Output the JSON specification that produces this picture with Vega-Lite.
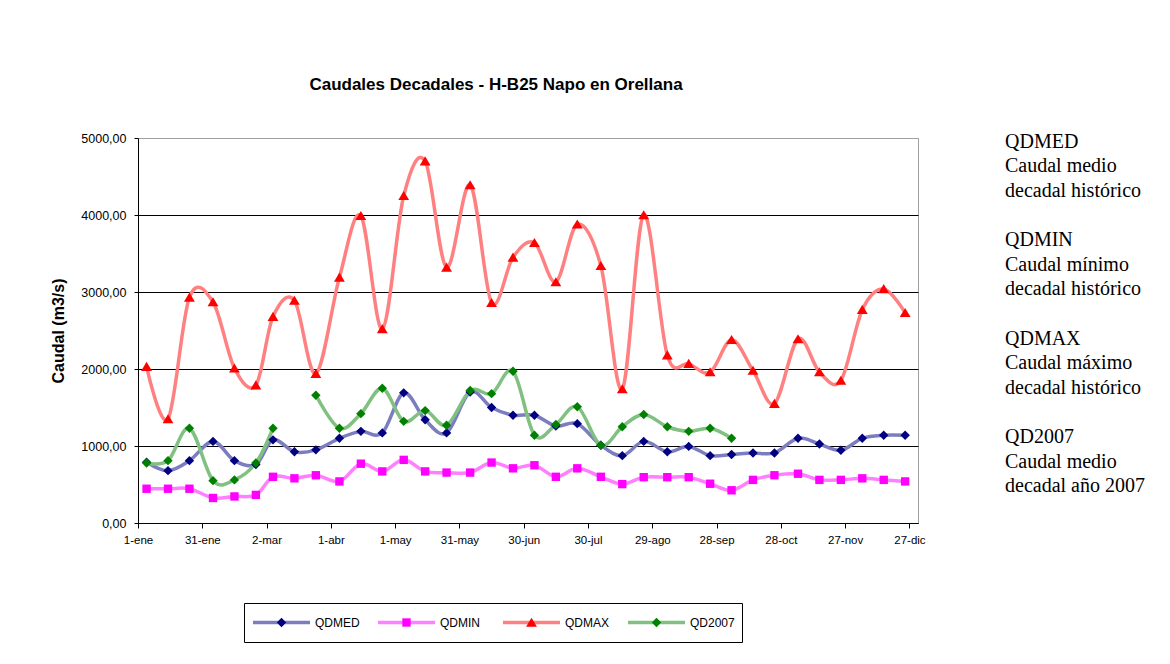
{
  "$schema": "https://vega.github.io/schema/vega-lite/v6.json",
  "autosize": {"type": "none"},
  "padding": {"left": 138, "top": 138, "right": 1032, "bottom": 526},
  "background": "white",
  "bounds": "flush",
  "spacing": 86,
  "config": {
    "view": {"stroke": "#A0A0A0", "strokeWidth": 1},
    "font": "Liberation Sans"
  },
  "hconcat": [
    {
      "width": 780,
      "height": 385,
      "title": {
        "text": "Caudales Decadales - H-B25 Napo en Orellana",
        "font": "Liberation Sans",
        "fontSize": 17,
        "fontWeight": "bold",
        "color": "black",
        "anchor": "middle",
        "frame": "group",
        "dx": -32,
        "offset": 38
      },
      "data": {
        "values": [
          {"fecha": "2007-01-05", "QDMED": 790, "QDMIN": 445, "QDMAX": 2030, "QD2007": 780},
          {"fecha": "2007-01-15", "QDMED": 680, "QDMIN": 445, "QDMAX": 1350, "QD2007": 810},
          {"fecha": "2007-01-25", "QDMED": 810, "QDMIN": 445, "QDMAX": 2930, "QD2007": 1230},
          {"fecha": "2007-02-05", "QDMED": 1060, "QDMIN": 325, "QDMAX": 2870, "QD2007": 550},
          {"fecha": "2007-02-15", "QDMED": 810, "QDMIN": 345, "QDMAX": 2010, "QD2007": 560},
          {"fecha": "2007-02-25", "QDMED": 760, "QDMIN": 365, "QDMAX": 1790, "QD2007": 780},
          {"fecha": "2007-03-05", "QDMED": 1080, "QDMIN": 600, "QDMAX": 2680, "QD2007": 1230},
          {"fecha": "2007-03-15", "QDMED": 925, "QDMIN": 580, "QDMAX": 2890, "QD2007": null},
          {"fecha": "2007-03-25", "QDMED": 950, "QDMIN": 620, "QDMAX": 1940, "QD2007": 1660},
          {"fecha": "2007-04-05", "QDMED": 1100, "QDMIN": 540, "QDMAX": 3190, "QD2007": 1230},
          {"fecha": "2007-04-15", "QDMED": 1190, "QDMIN": 770, "QDMAX": 3990, "QD2007": 1420},
          {"fecha": "2007-04-25", "QDMED": 1170, "QDMIN": 670, "QDMAX": 2520, "QD2007": 1750},
          {"fecha": "2007-05-05", "QDMED": 1690, "QDMIN": 820, "QDMAX": 4250, "QD2007": 1320},
          {"fecha": "2007-05-15", "QDMED": 1340, "QDMIN": 670, "QDMAX": 4700, "QD2007": 1460},
          {"fecha": "2007-05-25", "QDMED": 1170, "QDMIN": 655, "QDMAX": 3320, "QD2007": 1270},
          {"fecha": "2007-06-05", "QDMED": 1700, "QDMIN": 655, "QDMAX": 4390, "QD2007": 1720},
          {"fecha": "2007-06-15", "QDMED": 1500, "QDMIN": 785, "QDMAX": 2860, "QD2007": 1680},
          {"fecha": "2007-06-25", "QDMED": 1400, "QDMIN": 710, "QDMAX": 3450, "QD2007": 1970},
          {"fecha": "2007-07-05", "QDMED": 1400, "QDMIN": 750, "QDMAX": 3640, "QD2007": 1140},
          {"fecha": "2007-07-15", "QDMED": 1260, "QDMIN": 600, "QDMAX": 3130, "QD2007": 1280},
          {"fecha": "2007-07-25", "QDMED": 1290, "QDMIN": 710, "QDMAX": 3880, "QD2007": 1510},
          {"fecha": "2007-08-05", "QDMED": 1010, "QDMIN": 600, "QDMAX": 3340, "QD2007": 1010},
          {"fecha": "2007-08-15", "QDMED": 875, "QDMIN": 505, "QDMAX": 1740, "QD2007": 1250},
          {"fecha": "2007-08-25", "QDMED": 1060, "QDMIN": 595, "QDMAX": 4000, "QD2007": 1410},
          {"fecha": "2007-09-05", "QDMED": 925, "QDMIN": 595, "QDMAX": 2180, "QD2007": 1250},
          {"fecha": "2007-09-15", "QDMED": 995, "QDMIN": 595, "QDMAX": 2070, "QD2007": 1190},
          {"fecha": "2007-09-25", "QDMED": 875, "QDMIN": 510, "QDMAX": 1960, "QD2007": 1230},
          {"fecha": "2007-10-05", "QDMED": 890, "QDMIN": 425, "QDMAX": 2380, "QD2007": 1100},
          {"fecha": "2007-10-15", "QDMED": 910, "QDMIN": 560, "QDMAX": 1980, "QD2007": null},
          {"fecha": "2007-10-25", "QDMED": 910, "QDMIN": 620, "QDMAX": 1550, "QD2007": null},
          {"fecha": "2007-11-05", "QDMED": 1100, "QDMIN": 640, "QDMAX": 2390, "QD2007": null},
          {"fecha": "2007-11-15", "QDMED": 1025, "QDMIN": 560, "QDMAX": 1960, "QD2007": null},
          {"fecha": "2007-11-25", "QDMED": 945, "QDMIN": 560, "QDMAX": 1850, "QD2007": null},
          {"fecha": "2007-12-05", "QDMED": 1100, "QDMIN": 580, "QDMAX": 2770, "QD2007": null},
          {"fecha": "2007-12-15", "QDMED": 1140, "QDMIN": 560, "QDMAX": 3040, "QD2007": null},
          {"fecha": "2007-12-25", "QDMED": 1140, "QDMIN": 540, "QDMAX": 2730, "QD2007": null}
        ]
      },
      "encoding": {
        "x": {
          "field": "fecha",
          "type": "temporal",
          "scale": {
            "type": "utc",
            "domain": [
              {"year": 2007, "month": 1, "date": 1, "utc": true},
              {"year": 2007, "month": 12, "date": 31, "utc": true}
            ]
          },
          "axis": {
            "values": [
              {"year": 2007, "month": 1, "date": 1, "utc": true},
              {"year": 2007, "month": 1, "date": 31, "utc": true},
              {"year": 2007, "month": 3, "date": 2, "utc": true},
              {"year": 2007, "month": 4, "date": 1, "utc": true},
              {"year": 2007, "month": 5, "date": 1, "utc": true},
              {"year": 2007, "month": 5, "date": 31, "utc": true},
              {"year": 2007, "month": 6, "date": 30, "utc": true},
              {"year": 2007, "month": 7, "date": 30, "utc": true},
              {"year": 2007, "month": 8, "date": 29, "utc": true},
              {"year": 2007, "month": 9, "date": 28, "utc": true},
              {"year": 2007, "month": 10, "date": 28, "utc": true},
              {"year": 2007, "month": 11, "date": 27, "utc": true},
              {"year": 2007, "month": 12, "date": 27, "utc": true}
            ],
            "labelExpr": "utcdate(datum.value) + '-' + ['ene','feb','mar','abr','may','jun','jul','ago','sep','oct','nov','dic'][utcmonth(datum.value)]",
            "title": null,
            "grid": false,
            "domainColor": "black",
            "tickColor": "black",
            "tickSize": 5,
            "labelFont": "Liberation Sans",
            "labelFontSize": 11.5,
            "labelColor": "black",
            "labelPadding": 6,
            "labelFlush": false,
            "labelOverlap": false
          }
        },
        "y": {
          "field": "caudal",
          "type": "quantitative",
          "scale": {"domain": [0, 5000], "nice": false, "zero": true},
          "axis": {
            "values": [0, 1000, 2000, 3000, 4000, 5000],
            "labelExpr": "replace(format(datum.value, '.2f'), '.', ',')",
            "title": "Caudal (m3/s)",
            "titleFont": "Liberation Sans",
            "titleFontSize": 16,
            "titleFontWeight": "bold",
            "titleColor": "black",
            "titlePadding": 14,
            "grid": true,
            "gridColor": {"condition": {"test": "datum.value >= 5000", "value": "#A0A0A0"}, "value": "black"},
            "gridWidth": 1,
            "domainColor": "black",
            "tickColor": "black",
            "tickSize": 4,
            "labelFont": "Liberation Sans",
            "labelFontSize": 12.5,
            "labelColor": "black",
            "labelPadding": 8
          }
        }
      },
      "layer": [
        {
          "transform": [{"fold": ["QDMED", "QDMIN", "QDMAX", "QD2007"], "as": ["serie", "caudal"]}],
          "mark": {"type": "line", "interpolate": "cardinal", "strokeWidth": 3.5, "invalid": "break-paths-show-domains"},
          "encoding": {
            "stroke": {
              "field": "serie",
              "type": "nominal",
              "sort": null,
              "scale": {"range": ["#7C7CC0", "#FF80FF", "#FF8080", "#80C080"]},
              "legend": {
                "orient": "none",
                "legendX": 106,
                "legendY": 465,
                "direction": "horizontal",
                "columns": 4,
                "gridAlign": "all",
                "title": null,
                "symbolType": "stroke",
                "symbolSize": 3249,
                "symbolStrokeWidth": 3.5,
                "clipHeight": 25,
                "padding": 7,
                "strokeColor": "black",
                "fillColor": "white",
                "labelFont": "Liberation Sans",
                "labelFontSize": 12,
                "labelColor": "black",
                "labelOffset": 3,
                "columnPadding": 16,
                "zindex": 1
              }
            }
          }
        },
        {
          "transform": [
            {"fold": ["QDMED", "QDMIN", "QDMAX", "QD2007"], "as": ["marcador", "caudal"]},
            {"filter": "datum.caudal != null"}
          ],
          "mark": {"type": "point", "filled": true, "size": 3249, "opacity": 1, "strokeWidth": 0},
          "encoding": {
            "fill": {
              "field": "marcador",
              "type": "nominal",
              "sort": null,
              "scale": {"range": ["#000080", "#FF00FF", "#FF0000", "#008000"]},
              "legend": {
                "orient": "none",
                "legendX": 106,
                "legendY": 465,
                "direction": "horizontal",
                "columns": 4,
                "gridAlign": "all",
                "title": null,
                "symbolSize": 3249,
                "symbolStrokeWidth": 3.5,
                "symbolStrokeColor": "transparent",
                "clipHeight": 25,
                "padding": 7,
                "labelFont": "Liberation Sans",
                "labelFontSize": 12,
                "labelOpacity": 0,
                "labelOffset": 3,
                "columnPadding": 16,
                "zindex": 2
              }
            },
            "shape": {
              "field": "marcador",
              "type": "nominal",
              "sort": null,
              "scale": {
                "range": [
                  "M0,-0.165L0.165,0L0,0.165L-0.165,0Z",
                  "M-0.147,-0.147L0.147,-0.147L0.147,0.147L-0.147,0.147Z",
                  "M0,-0.17L0.19,0.15L-0.19,0.15Z",
                  "M0,-0.165L0.165,0L0,0.165L-0.165,0Z"
                ]
              },
              "legend": {
                "orient": "none",
                "legendX": 106,
                "legendY": 465,
                "direction": "horizontal",
                "columns": 4,
                "gridAlign": "all",
                "title": null,
                "symbolSize": 3249,
                "symbolStrokeWidth": 3.5,
                "symbolStrokeColor": "transparent",
                "clipHeight": 25,
                "padding": 7,
                "labelFont": "Liberation Sans",
                "labelFontSize": 12,
                "labelOpacity": 0,
                "labelOffset": 3,
                "columnPadding": 16,
                "zindex": 2
              }
            }
          }
        }
      ]
    },
    {
      "width": 2,
      "height": 303,
      "view": {"stroke": null},
      "data": {
        "values": [
          {"serie": "QDMED", "texto": "QDMED\nCaudal medio\ndecadal histórico"},
          {"serie": "QDMIN", "texto": "QDMIN\nCaudal mínimo\ndecadal histórico"},
          {"serie": "QDMAX", "texto": "QDMAX\nCaudal máximo\ndecadal histórico"},
          {"serie": "QD2007", "texto": "QD2007\nCaudal medio\ndecadal año 2007"}
        ]
      },
      "mark": {
        "type": "text",
        "align": "left",
        "baseline": "middle",
        "font": "Liberation Serif",
        "fontSize": 20,
        "lineHeight": 24.5,
        "lineBreak": "\n",
        "color": "black"
      },
      "encoding": {
        "y": {"field": "serie", "type": "nominal", "sort": null, "axis": null, "scale": {"type": "point", "padding": 0.04}},
        "text": {"field": "texto", "type": "nominal"}
      }
    }
  ]
}
